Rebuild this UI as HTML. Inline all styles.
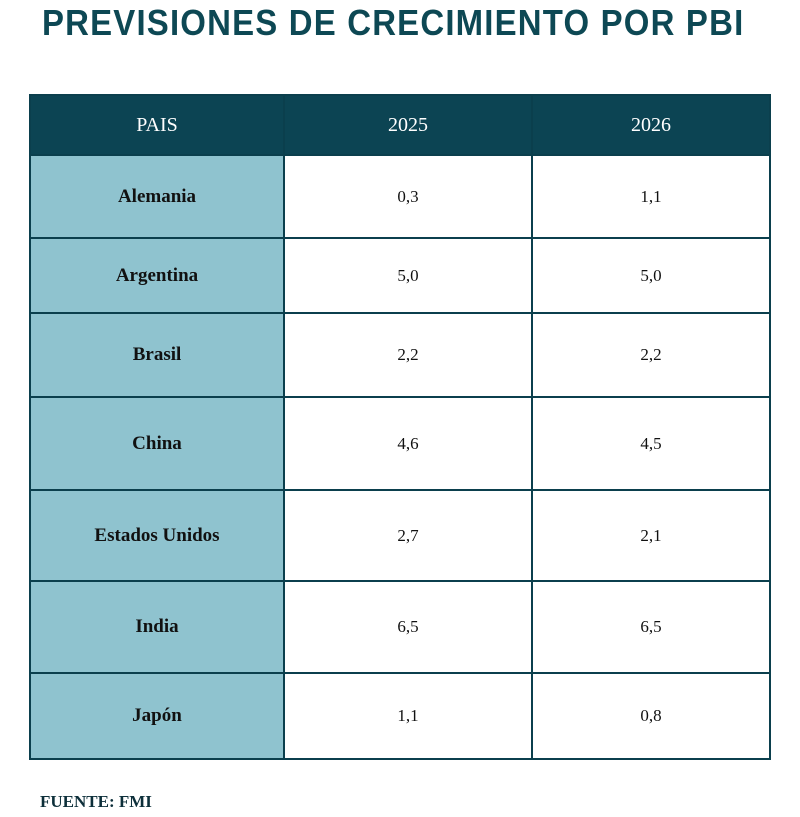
<!DOCTYPE html>
<html><head><meta charset="utf-8"><style>
body{margin:0;width:800px;height:817px;background:#fff;position:relative;overflow:hidden}
#title{position:absolute;left:42px;top:2px;width:704px;font:bold 36px "Liberation Sans",sans-serif;color:#0d4854;letter-spacing:1.3px;white-space:nowrap;transform:scaleX(0.915);transform-origin:left top}
table{position:absolute;left:29px;top:94px;border-collapse:collapse;width:740px;table-layout:fixed;font-family:"Liberation Serif",serif}
td,th{border:2px solid #0b3f4d;text-align:center;padding:0}
th{background:#0c4453;color:#fff;font-weight:normal;font-size:20px;height:58px}
td.c{background:#8fc3cf;font-weight:bold;font-size:19px;color:#111}
td.v{font-size:17px;color:#111}
#src{position:absolute;left:40px;top:792px;font:bold 17px "Liberation Serif",serif;color:#0d2f3a}
</style></head><body>
<div id="title">PREVISIONES DE CRECIMIENTO POR PBI</div>
<table>
<colgroup><col style="width:254px"><col style="width:248px"><col style="width:238px"></colgroup>
<thead><tr><th>PAIS</th><th>2025</th><th>2026</th></tr></thead>
<tbody id="tb"></tbody></table>
<div id="src">FUENTE: FMI</div>
<script>
const countries=["Alemania","Argentina","Brasil","China","Estados Unidos","India","Japón"];
const v2025=["0,3","5,0","2,2","4,6","2,7","6,5","1,1"];
const v2026=["1,1","5,0","2,2","4,5","2,1","6,5","0,8"];
const heights=[83,75,84,93,91,92,86];
const tb=document.getElementById('tb');
countries.forEach((c,i)=>{
  const tr=document.createElement('tr');
  
  
  tr.style.height=heights[i]+'px';
  [[c,'c','country-cell'],[v2025[i],'v','value-2025'],[v2026[i],'v','value-2026']].forEach(([t,cls,n])=>{
    const td=document.createElement('td');
    td.className=cls;td.textContent=t;
    
    
    tr.appendChild(td);
  });
  tb.appendChild(tr);
});
</script>
</body></html>
